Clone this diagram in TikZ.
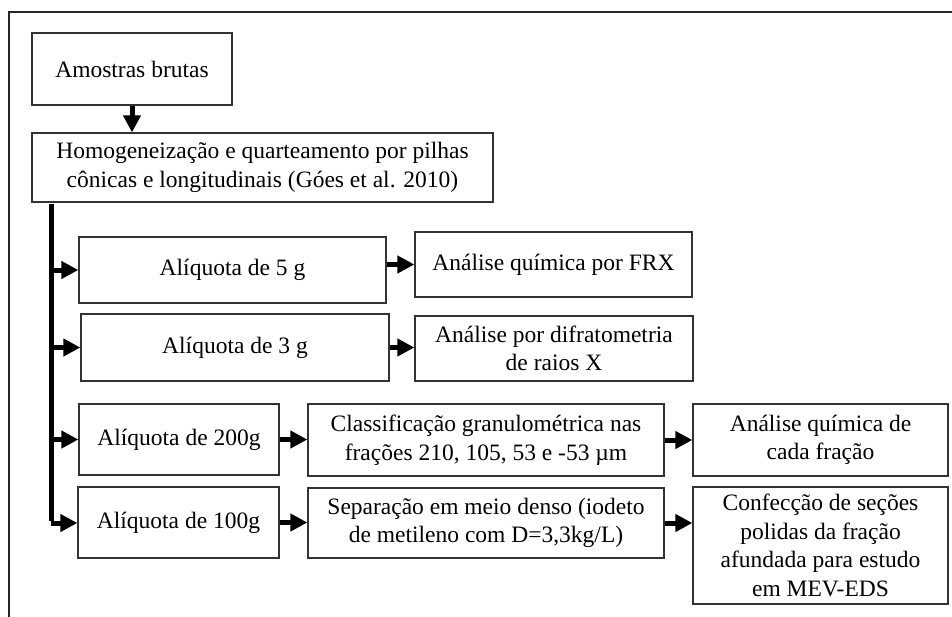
\documentclass[tikz,border=0pt]{standalone}
\usepackage{fontspec}
\setmainfont{Liberation Serif}
\usetikzlibrary{arrows.meta}
\tikzset{
  box/.style={draw=black!80, line width=1.3pt, align=center, inner sep=2pt,
    font=\fontsize{23.5}{28.5}\selectfont},
  flow/.style={line width=5pt, -{Triangle[length=17pt,width=17pt]}},
  trunk/.style={line width=5pt},
  frame/.style={draw=black!85, line width=1.6pt}
}
\newcommand{\bx}[6]{\node[box, minimum width=#4pt, minimum height=#5pt] (#1) at (#2,#3) {#6};}
\begin{document}
\begin{tikzpicture}[x=1pt,y=-1pt]
\useasboundingbox (0,0) rectangle (952,616);
\draw[frame] (9,630) -- (9,12) -- (970,12);
\bx{A}{132}{69}{200}{72}{Amostras brutas}
\bx{H}{262.5}{167.5}{461}{69}{Homogeneização e quarteamento por pilhas\\cônicas e longitudinais (Góes et al. 2010)}
\bx{a5}{232.5}{270}{307}{66}{Alíquota de 5 g}
\bx{a3}{235}{347.5}{308}{67}{Alíquota de 3 g}
\bx{a200}{179}{439.5}{200}{71}{Alíquota de 200g}
\bx{a100}{178.5}{522.5}{201}{71}{Alíquota de 100g}
\bx{frx}{553.5}{264.5}{277}{65}{Análise química por FRX}
\bx{drx}{554}{348.5}{278}{65}{Análise por difratometria\\de raios X}
\bx{cls}{486}{440}{356}{72}{Classificação granulométrica nas\\frações 210, 105, 53 e -53 µm}
\bx{sep}{486}{523}{356}{70}{Separação em meio denso (iodeto\\de metileno com D=3,3kg/L)}
\bx{cad}{820.5}{440}{255}{72}{Análise química de\\cada fração}
\bx{conf}{820.5}{545.5}{255}{117}{Confecção de seções\\polidas da fração\\afundada para estudo\\em MEV-EDS}
\coordinate (t0) at (51,202);
\coordinate (t1) at (51,523);
\draw[flow] (A.south) -- (A.south |- H.north);
\draw[trunk] ([yshift=-2pt]t0) -- ([yshift=2.5pt]t1);
\draw[flow] (t0 |- a5.west) -- (a5.west);
\draw[flow] (t0 |- a3.west) -- (a3.west);
\draw[flow] (t0 |- a200.west) -- (a200.west);
\draw[flow] (t1) -- (t1 -| a100.west);
\draw[flow] (frx.west -| a5.east) -- (frx.west);
\draw[flow] (a3.east) -- (a3.east -| drx.west);
\draw[flow] (a200.east) -- (a200.east -| cls.west);
\draw[flow] (a100.east) -- (a100.east -| sep.west);
\draw[flow] (cls.east) -- (cls.east -| cad.west);
\draw[flow] (sep.east) -- (sep.east -| conf.west);
\end{tikzpicture}
\end{document}
